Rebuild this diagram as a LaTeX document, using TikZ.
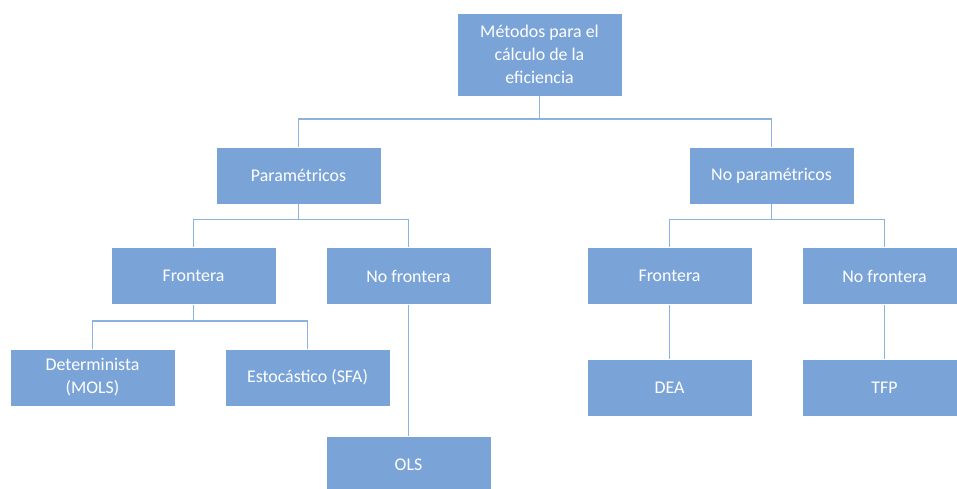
\documentclass[tikz,border=0pt]{standalone}
\usepackage{fontspec}
\setmainfont{Carlito}
\definecolor{boxblue}{RGB}{122,164,215}
\definecolor{lineblue}{RGB}{140,178,224}
\begin{document}
\begin{tikzpicture}[x=0.75pt,y=-0.75pt,
		box/.style={fill=boxblue,draw=white,line width=0.4pt,text=white,align=center,
			minimum width=123.75pt,minimum height=42.75pt,inner sep=2pt,font=\fontsize{13.4}{17.2}\selectfont},
		link/.style={draw=lineblue,line width=0.9pt}]
	\clip (0,0) rectangle (957,489);
	\fill[white] (0,0) rectangle (957,489);
	% nivel 1
	\node[box,minimum height=62.25pt] (root) at (539.5,54.5) {Métodos para el\\cálculo de la\\eficiencia};
	% nivel 2
	\node[box] (param) at (298.5,175.5) {Paramétricos};
	\node[box] (nopar) at (771.5,175.5) {No paramétricos};
	% nivel 3
	\node[box] (front) at (193.5,276) {Frontera};
	\node[box] (nofront) at (408.5,276) {No frontera};
	\node[box] (rfront) at (669.5,276) {Frontera};
	\node[box] (rnofront) at (884.5,276) {No frontera};
	% nivel 4
	\node[box] (det) at (92.5,377.5) {Determinista\\(MOLS)};
	\node[box] (esto) at (307.5,377.5) {Estocástico (SFA)};
	\node[box] (ols) at (408.5,464.5) {OLS};
	\node[box] (dea) at (669.5,387.5) {DEA};
	\node[box] (tfp) at (884.5,387.5) {TFP};
	% conectores
	\draw[link] (root.south) -- (root.south |- 0,119) -| (param.north);
	\draw[link] (root.south) -- (root.south |- 0,119) -| (nopar.north);
	\draw[link] (param.south) -- (param.south |- 0,219.5) -| (front.north);
	\draw[link] (param.south) -- (param.south |- 0,219.5) -| (nofront.north);
	\draw[link] (nopar.south) -- (nopar.south |- 0,219.5) -| (rfront.north);
	\draw[link] (nopar.south) -- (nopar.south |- 0,219.5) -| (rnofront.north);
	\draw[link] (front.south) -- (front.south |- 0,321) -| (det.north);
	\draw[link] (front.south) -- (front.south |- 0,321) -| (esto.north);
	\draw[link] (nofront) -- (ols);
	\draw[link] (rfront) -- (dea);
	\draw[link] (rnofront) -- (tfp);
\end{tikzpicture}
\end{document}
